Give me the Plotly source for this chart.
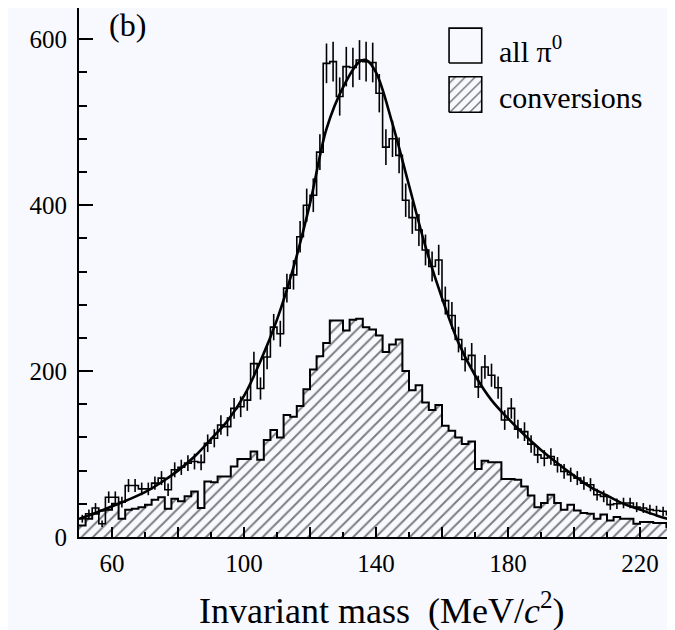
import numpy as np
import plotly.graph_objects as go

# ---------------- data ----------------
BIN_START = 50      # MeV/c^2
BIN_WIDTH = 2       # MeV/c^2

# all pi0 candidates, counts per 2 MeV bin (50 ... 230)
all_pi0 = [22, 28, 35, 16, 48, 48, 42, 62, 62, 58,
           58, 65, 71, 57, 81, 84, 89, 91, 90, 113,
           119, 135, 133, 155, 157, 165, 209, 179, 217, 253,
           245, 300, 316, 362, 400, 412, 464, 571, 573, 531,
           567, 566, 575, 573, 572, 535, 470, 480, 460, 406,
           385, 370, 346, 326, 334, 285, 267, 238, 214, 219,
           181, 205, 195, 180, 141, 155, 130, 127, 112, 99,
           95, 97, 87, 79, 75, 71, 65, 63, 51, 49,
           39, 40, 41, 41, 36, 35, 33, 32, 31, 27]

# photon-conversion sub-sample, counts per bin
conversions = [14, 22, 28, 32, 33, 40, 22, 33, 34, 36,
               39, 45, 48, 34, 46, 43, 49, 55, 35, 67,
               66, 73, 73, 85, 94, 94, 103, 93, 117, 129,
               120, 147, 145, 158, 178, 202, 218, 234, 261, 261,
               249, 262, 263, 253, 250, 243, 223, 232, 238, 200,
               177, 183, 162, 153, 159, 134, 128, 120, 112, 115,
               82, 92, 90, 90, 70, 70, 69, 61, 50, 36,
               41, 51, 41, 33, 39, 32, 29, 28, 22, 27,
               20, 24, 22, 22, 16, 18, 18, 17, 17, 12]

# fitted line shape
fit_mass = [50, 55, 60, 65, 70, 75, 80, 85, 90, 95, 100, 105, 110, 115,
            120, 125, 130, 135, 137, 140, 145, 150, 155, 160, 165, 170,
            175, 180, 185, 190, 195, 200, 205, 210, 215, 220, 225, 230]
fit_counts = [22, 29, 37, 45, 54, 66, 80, 97, 118, 140, 170, 212, 262, 325,
              402, 492, 542, 573, 575, 560, 498, 424, 350, 288, 234, 195,
              165, 143, 123, 105, 89, 74, 60, 50, 40, 33, 26, 20]

X_TICK0, X_DTICK = 60, 20      # long x ticks every 20, labelled every 40
Y_TICK0, Y_DTICK = 0, 200

# ---------------- style ----------------
BG = "#f8f8ff"
FONT = "Liberation Serif, Times New Roman, DejaVu Serif, serif"
X_RANGE = [50, 230]
Y_RANGE = [0, 637.7]

n = len(all_pi0)
edges = BIN_START + BIN_WIDTH * np.arange(n + 1)
centers = BIN_START + BIN_WIDTH * (np.arange(n) + 0.5)
all_step = list(all_pi0) + [all_pi0[-1]]
conv_step = list(conversions) + [conversions[-1]]

fig = go.Figure()

# hatched conversions histogram
fig.add_trace(go.Scatter(
    x=edges, y=conv_step, mode="lines",
    line=dict(shape="hv", color="black", width=2),
    fill="tozeroy", fillcolor=BG,
    fillpattern=dict(shape="/", fgcolor="black", bgcolor=BG, size=8, solidity=0.24),
    hoverinfo="skip", showlegend=False))

# all pi0 histogram outline
fig.add_trace(go.Scatter(
    x=edges, y=all_step, mode="lines",
    line=dict(shape="hv", color="black", width=1.6),
    hoverinfo="skip", showlegend=False))

# statistical error bars
fig.add_trace(go.Scatter(
    x=centers, y=all_pi0, mode="markers",
    marker=dict(size=1, color="black", opacity=0),
    error_y=dict(type="data", array=np.sqrt(np.array(all_pi0, dtype=float)),
                 thickness=1.6, width=0, color="black"),
    hoverinfo="skip", showlegend=False))

# fit curve
fig.add_trace(go.Scatter(
    x=fit_mass, y=fit_counts, mode="lines",
    line=dict(shape="spline", smoothing=1.0, color="black", width=2.6),
    hoverinfo="skip", showlegend=False))

# ---- hand-made legend on an overlay (0..1) frame ----
LEG_X = [0.623, 0.678]
LEG_Y1 = [0.896, 0.962]
LEG_Y2 = [0.803, 0.870]

def box(xr, yr):
    return [xr[0], xr[1], xr[1], xr[0], xr[0]], [yr[0], yr[0], yr[1], yr[1], yr[0]]

bx, by = box(LEG_X, LEG_Y1)
fig.add_trace(go.Scatter(x=bx, y=by, xaxis="x2", yaxis="y2", mode="lines",
                         fill="toself", fillcolor=BG,
                         line=dict(color="black", width=1.6),
                         hoverinfo="skip", showlegend=False))
bx, by = box(LEG_X, LEG_Y2)
fig.add_trace(go.Scatter(x=bx, y=by, xaxis="x2", yaxis="y2", mode="lines",
                         fill="toself", fillcolor=BG,
                         fillpattern=dict(shape="/", fgcolor="black", bgcolor=BG,
                                          size=7, solidity=0.22),
                         line=dict(color="black", width=1.6),
                         hoverinfo="skip", showlegend=False))

tickfont = dict(family=FONT, size=25, color="black")

fig.update_layout(
    width=667, height=622,
    margin=dict(l=71, r=2, t=0, b=93),
    paper_bgcolor=BG, plot_bgcolor=BG,
    font=dict(family=FONT, color="black"),
    showlegend=False,
    xaxis=dict(range=X_RANGE, showgrid=False, zeroline=False,
               showline=True, linecolor="black", linewidth=2,
               tickmode="linear", tick0=X_TICK0, dtick=X_DTICK, ticklabelstep=2,
               ticks="inside", ticklen=10, tickwidth=2, tickcolor="black",
               tickfont=tickfont, ticklabelstandoff=3,
               minor=dict(ticks="inside", dtick=10, tick0=50, ticklen=5,
                          tickwidth=2, tickcolor="black", showgrid=False)),
    yaxis=dict(range=Y_RANGE, showgrid=False, zeroline=False,
               showline=True, linecolor="black", linewidth=2,
               tickmode="linear", tick0=Y_TICK0, dtick=Y_DTICK,
               ticks="inside", ticklen=14, tickwidth=2, tickcolor="black",
               tickfont=tickfont, ticklabelstandoff=5,
               minor=dict(ticks="inside", dtick=40, tick0=0, ticklen=8,
                          tickwidth=2, tickcolor="black", showgrid=False)),
    xaxis2=dict(overlaying="x", anchor="y2", range=[0, 1], visible=False),
    yaxis2=dict(overlaying="y", anchor="x2", range=[0, 1], visible=False),
    shapes=[dict(type="line", xref="paper", yref="paper", x0=1, x1=1, y0=0, y1=1,
                 line=dict(color="black", width=1.5))],
    annotations=[
        dict(text="(b)", xref="paper", yref="paper", x=0.081, y=0.968,
             xanchor="center", yanchor="middle", showarrow=False,
             font=dict(family=FONT, size=32, color="black")),
        dict(text="all \u03c0<sup>0</sup>", xref="paper", yref="paper", x=0.703, y=0.923,
             xanchor="left", yanchor="middle", showarrow=False,
             font=dict(family=FONT, size=30, color="black")),
        dict(text="conversions", xref="paper", yref="paper", x=0.703, y=0.830,
             xanchor="left", yanchor="middle", showarrow=False,
             font=dict(family=FONT, size=30, color="black")),
        dict(text="Invariant mass \u00a0(MeV/<i>c</i><sup>2</sup>)", xref="paper", yref="paper",
             x=0.51, y=-0.136, xanchor="center", yanchor="middle", showarrow=False,
             font=dict(family=FONT, size=36, color="black")),
    ],
)

fig.write_html("out.html")
